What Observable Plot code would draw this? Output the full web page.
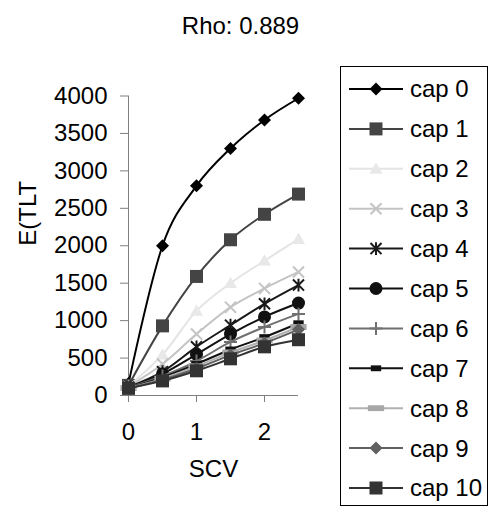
<!DOCTYPE html>
<html>
<head>
<meta charset="utf-8">
<script src="https://cdn.jsdelivr.net/npm/d3@7"></script>
<script src="https://cdn.jsdelivr.net/npm/@observablehq/plot@0.6"></script>
<style>
  body { margin: 0; background: #fff; }
  #chart svg { font-family: "Liberation Sans", Arial, sans-serif; }
  g[aria-label="x-axis tick"], g[aria-label="y-axis tick"] { stroke: #808080; }
</style>
</head>
<body>
<div id="chart"></div>
<script>
const title = "Rho: 0.889";
const xTitle = "SCV";
const yTitle = "E(TLT";
const scv = [0, 0.5, 1, 1.5, 2, 2.5];
const xTicks = [0, 1, 2];
const yTicks = [0, 500, 1000, 1500, 2000, 2500, 3000, 3500, 4000];
const seriesNames = ["cap 0","cap 1","cap 2","cap 3","cap 4","cap 5","cap 6","cap 7","cap 8","cap 9","cap 10"];
const cap0  = [160, 2000, 2800, 3300, 3680, 3970];
const cap1  = [135, 930, 1590, 2080, 2420, 2690];
const cap2  = [125, 545, 1130, 1500, 1800, 2090];
const cap3  = [118, 420, 820, 1180, 1430, 1650];
const cap4  = [112, 318, 650, 940, 1225, 1475];
const cap5  = [108, 290, 550, 820, 1050, 1235];
const cap6  = [104, 260, 460, 715, 915, 1090];
const cap7  = [101, 240, 420, 615, 780, 965];
const cap8  = [99, 225, 390, 575, 735, 915];
const cap9  = [97, 210, 360, 540, 700, 880];
const cap10 = [95, 195, 330, 490, 650, 745];
const seriesValues = [cap0, cap1, cap2, cap3, cap4, cap5, cap6, cap7, cap8, cap9, cap10];
const lineColors   = ["#000000","#444444","#e4e4e4","#c4c4c4","#1a1a1a","#111111","#707070","#111111","#b0b0b0","#606060","#333333"];
const markerColors = ["#000000","#444444","#e8e8e8","#c4c4c4","#1a1a1a","#111111","#707070","#111111","#a8a8a8","#606060","#333333"];

// marker shapes (size = PI*r^2 from Plot; r = half extent)
const R = s => Math.sqrt(s / Math.PI);
const symDiamond = {draw(c, s){const r=R(s); c.moveTo(0,-r); c.lineTo(r,0); c.lineTo(0,r); c.lineTo(-r,0); c.closePath();}};
const symSquare = {draw(c, s){const r=R(s); c.rect(-r,-r,2*r,2*r);}};
const symTriangle = {draw(c, s){const r=R(s); c.moveTo(0,-r); c.lineTo(r,r*0.75); c.lineTo(-r,r*0.75); c.closePath();}};
const symTimes = {draw(c, s){const r=R(s)*0.85; c.moveTo(-r,-r); c.lineTo(r,r); c.moveTo(r,-r); c.lineTo(-r,r);}};
const symAsterisk = {draw(c, s){const r=R(s)*0.85; c.moveTo(-r,-r); c.lineTo(r,r); c.moveTo(r,-r); c.lineTo(-r,r); c.moveTo(0,-r*1.15); c.lineTo(0,r*1.15);}};
const symCircle = {draw(c, s){const r=R(s); c.moveTo(r,0); c.arc(0,0,r,0,2*Math.PI);}};
const symPlus = {draw(c, s){const r=R(s); c.moveTo(0,-r); c.lineTo(0,r); c.moveTo(-r,0); c.lineTo(r,0);}};
const symDash = {draw(c, s){const r=R(s); c.rect(-r*0.8,-r*0.45,r*1.6,r*0.9);}};
const symLongDash = {draw(c, s){const r=R(s); c.rect(-r*1.25,-r*0.45,r*2.5,r*0.9);}};
const symbols = [symDiamond, symSquare, symTriangle, symTimes, symAsterisk, symCircle, symPlus, symDash, symLongDash, symDiamond, symSquare];
const filled  = [true, true, true, false, false, true, false, true, true, true, true];
const radius  = [6.5, 6.5, 6.5, 6.5, 6.5, 6.5, 6.5, 6.5, 6.5, 6.5, 6.5];

const rows = seriesValues.map((vals, i) => vals.map((v, j) => ({series: i, x: scv[j], y: v})));

const FS = 24;
const marks = [
  Plot.ruleX([0], {stroke: "#808080"}),
  Plot.ruleY([0], {stroke: "#808080"})
];
rows.forEach((data, i) => {
  marks.push(Plot.line(data, {x: "x", y: "y", stroke: lineColors[i], strokeWidth: 2, curve: "cardinal"}));
  marks.push(Plot.dot(data, {x: "x", y: "y", r: radius[i], symbol: symbols[i],
    fill: filled[i] ? markerColors[i] : "none",
    stroke: filled[i] ? "none" : markerColors[i], strokeWidth: 2}));
});
marks.push(Plot.text([title], {text: d => d, frameAnchor: "top", dx: 27, dy: -79, fontSize: FS, fill: "#000"}));
marks.push(Plot.text([yTitle], {text: d => d, frameAnchor: "left", dx: -100, rotate: -90, fontSize: FS, fill: "#000"}));
marks.push(Plot.text([xTitle], {text: d => d, frameAnchor: "bottom", dy: 81, fontSize: FS, fill: "#000"}));

const svg = Plot.plot({
  width: 489,
  height: 508,
  marginLeft: 128,
  marginRight: 191,
  marginTop: 95.5,
  marginBottom: 113,
  style: {fontSize: FS + "px", fontFamily: "'Liberation Sans', Arial, sans-serif", color: "#000", background: "#fff"},
  x: {domain: [0, 2.5], ticks: xTicks, tickSize: 7, tickPadding: 20, tickFormat: d => String(d), label: null},
  y: {domain: [0, 4000], ticks: yTicks, tickSize: 8, tickPadding: 13, tickFormat: d => String(d), label: null},
  marks
});
document.getElementById("chart").appendChild(svg);

// legend
const lg = d3.select(svg).append("g").attr("aria-label", "legend");
lg.append("rect").attr("x", 340.5).attr("y", 66.5).attr("width", 147).attr("height", 439)
  .attr("fill", "#fff").attr("stroke", "#000").attr("stroke-width", 1);
seriesNames.forEach((name, i) => {
  const cy = 89 + 39.9 * i;
  const g = lg.append("g");
  g.append("line").attr("x1", 349).attr("x2", 403).attr("y1", cy).attr("y2", cy)
    .attr("stroke", lineColors[i]).attr("stroke-width", 2);
  const p = d3.path();
  symbols[i].draw(p, Math.PI * radius[i] * radius[i]);
  g.append("path").attr("transform", `translate(376,${cy})`).attr("d", p.toString())
    .attr("fill", filled[i] ? markerColors[i] : "none")
    .attr("stroke", filled[i] ? "none" : markerColors[i]).attr("stroke-width", 2);
  g.append("text").attr("x", 410).attr("y", cy).attr("dy", "0.35em")
    .attr("text-anchor", "start")
    .attr("font-size", FS).attr("fill", "#000").text(name);
});
</script>
</body>
</html>
